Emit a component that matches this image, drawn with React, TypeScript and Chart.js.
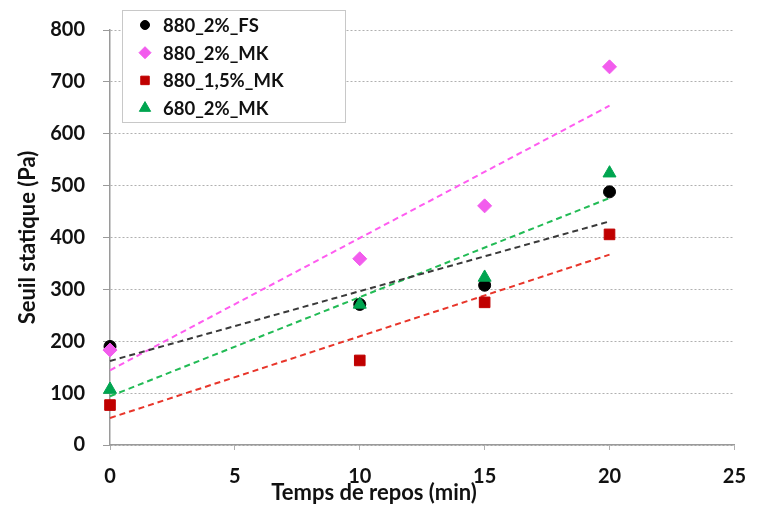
import React, { useEffect, useRef } from "react";
import { Chart, registerables } from "chart.js";
import { drawPoint } from "chart.js/helpers";

Chart.register(...registerables);

const times = [0, 10, 15, 20];
const seriesNames = ["880_2%_FS", "880_2%_MK", "880_1,5%_MK", "680_2%_MK"];
const fs880 = [190, 271, 308, 488];
const mk880 = [183, 359, 461, 729];
const mk880_15 = [77, 163, 275, 406];
const mk680 = [107, 271, 323, 524];

const trendX = [0, 20];
const trendFs880 = [162, 431];
const trendMk880 = [144, 654];
const trendMk880_15 = [52, 367];
const trendMk680 = [94, 476];

const xTicks = [0, 5, 10, 15, 20, 25];
const yTicks = [0, 100, 200, 300, 400, 500, 600, 700, 800];

const colors = ["#000000", "#f25ced", "#c00000", "#00a550"];
const trendColors = ["#3a3a3a", "#ff5cf0", "#e8352a", "#22bb55"];
const pointStyles = ["circle", "rectRot", "rect", "triangle"];
const pointRadii = [6, 7, 7.5, 7.5];
const legendRadii = [4.5, 6, 6, 6.5];

const FONT = "Lato, 'Open Sans', sans-serif";

const toPts = (xs: number[], ys: number[]) => xs.map((x, i) => ({ x, y: ys[i] }));

const legendPlugin = {
  id: "boxLegend",
  afterDraw(chart: any) {
    const ctx = chart.ctx;
    ctx.save();
    const bx = 122, by = 10, bw = 223, bh = 112;
    ctx.fillStyle = "#ffffff";
    ctx.fillRect(bx, by, bw, bh);
    ctx.strokeStyle = "#c8c8c8";
    ctx.lineWidth = 1;
    ctx.strokeRect(bx + 0.5, by + 0.5, bw, bh);
    ctx.font = `bold 18.5px ${FONT}`;
    ctx.textBaseline = "middle";
    ctx.textAlign = "left";
    seriesNames.forEach((name, i) => {
      const cy = 25 + i * 27.7;
      ctx.fillStyle = colors[i];
      ctx.strokeStyle = colors[i];
      drawPoint(ctx, { pointStyle: pointStyles[i], radius: legendRadii[i], borderWidth: 1, rotation: 0 } as any, 145, cy);
      ctx.fillStyle = "#111111";
      ctx.fillText(name, 163, cy + 1);
    });
    ctx.restore();
  },
};

export default function App() {
  const ref = useRef<HTMLCanvasElement | null>(null);
  useEffect(() => {
    if (!ref.current) return;
    const series = [fs880, mk880, mk880_15, mk680];
    const trends = [trendFs880, trendMk880, trendMk880_15, trendMk680];
    const orders = [4, 2, 3, 1];
    const datasets: any[] = [];
    series.forEach((s, i) => {
      datasets.push({
        label: seriesNames[i],
        data: toPts(times, s),
        pointStyle: pointStyles[i],
        pointRadius: pointRadii[i],
        backgroundColor: colors[i],
        borderColor: colors[i],
        borderWidth: 1,
        showLine: false,
        clip: false,
        order: orders[i],
      });
    });
    trends.forEach((t, i) => {
      datasets.push({
        label: "trend " + seriesNames[i],
        data: toPts(trendX, t),
        showLine: true,
        pointRadius: 0,
        borderColor: trendColors[i],
        borderWidth: 2,
        borderDash: [6, 4],
        fill: false,
        clip: false,
        order: 10,
      });
    });
    const chart = new Chart(ref.current, {
      type: "scatter",
      data: { datasets },
      options: {
        animation: false,
        responsive: false,
        layout: { padding: { left: 0, top: 29, right: 13, bottom: 0 } },
        plugins: {
          legend: { display: false },
          tooltip: { enabled: false },
          title: {
            display: true,
            position: "bottom",
            text: "Temps de repos (min)",
            color: "#111111",
            font: { family: FONT, size: 22, weight: "bold", lineHeight: 0.5 },
            padding: { top: 0, bottom: 16.5 },
          },
        },
        scales: {
          x: {
            type: "linear",
            min: 0,
            max: 25,
            afterBuildTicks: (scale: any) => {
              scale.ticks = xTicks.map((v) => ({ value: v }));
            },
            afterFit: (scale: any) => {
              scale.height = 42.5;
            },
            ticks: {
              color: "#111111",
              font: { family: FONT, size: 20, weight: "bold" },
              padding: 15,
              maxRotation: 0,
            },
            grid: {
              drawOnChartArea: false,
              tickLength: 5,
              tickColor: "#b0b0b0",
            },
            border: { color: "#9a9a9a", width: 1.5 },
          },
          y: {
            type: "linear",
            min: 0,
            max: 800,
            afterBuildTicks: (scale: any) => {
              scale.ticks = yTicks.map((v) => ({ value: v }));
            },
            afterFit: (scale: any) => {
              scale.width = 110;
            },
            ticks: {
              color: "#111111",
              font: { family: FONT, size: 20, weight: "bold" },
              padding: 18,
            },
            grid: {
              color: "#b0b0b0",
              tickColor: "#9a9a9a",
              tickLength: 7,
              tickBorderDash: [],
            },
            border: { color: "#9a9a9a", width: 1.5, dash: [2, 2] },
            title: {
              display: true,
              text: "Seuil statique (Pa)",
              color: "#111111",
              font: { family: FONT, size: 22, weight: "bold", lineHeight: 1.2 },
              padding: { top: 15, bottom: 0 },
            },
          },
        },
      },
      plugins: [legendPlugin],
    } as any);
    return () => chart.destroy();
  }, []);
  return (
    <div style={{ position: "absolute", left: 0, top: 0, width: 761, height: 515, background: "#fff" }}>
      <canvas ref={ref} width={761} height={515} style={{ display: "block" }} />
    </div>
  );
}
